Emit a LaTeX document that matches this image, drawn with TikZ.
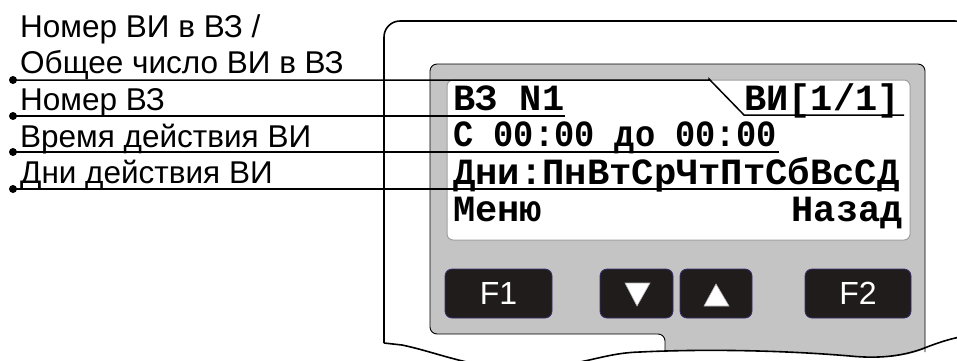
\documentclass[tikz,border=0pt]{standalone}
\usepackage{fontspec}
\setmainfont{Liberation Sans}
\newfontfamily\lcdfont{Liberation Mono}
\usetikzlibrary{positioning}
\definecolor{panelgray}{RGB}{196,196,196}
\definecolor{keyblack}{RGB}{32,28,27}
\definecolor{keyedge}{RGB}{58,46,110}

\tikzset{
  lbl/.style={anchor=base west, inner sep=0pt, font=\fontsize{31.5}{31.5}\selectfont},
  lcdtxt/.style={inner sep=0pt, font=\lcdfont\bfseries\fontsize{37}{37}\selectfont},
  key/.style={draw=keyedge, fill=keyblack, rounded corners=7pt, line width=0.8pt,
    minimum height=49pt, text=white, font=\fontsize{32}{32}\selectfont},
  dot/.style={circle, fill=black, inner sep=0pt, minimum size=8pt},
  leader/.style={line width=1.5pt},
  case/.style={line width=1.6pt},
}

\begin{document}
\begin{tikzpicture}[x=1pt,y=-1pt]
  \useasboundingbox (0,0) rectangle (957,360);
  \clip (0,0) rectangle (957,360);

  % housing
  \draw[case] (384,343) [rounded corners=16pt] -- (384,21) -- (971,21) -- (971,330);
  \fill[panelgray] (665,352) [rounded corners=7pt] -- (665,334) -- (430,334) -- (430,64)
    -- (925,64) [sharp corners] -- (925,349) .. controls (905,357) and (880,359) .. (850,356)
    .. controls (780,350) and (720,349) .. (665,352) -- cycle;
  \draw[line width=0.9pt] (665,352) [rounded corners=7pt] -- (665,334) -- (430,334) -- (430,64)
    -- (925,64) -- (925,352);
  \draw[case] (384,343) -- (402,345) .. controls (440,353) and (470,368) .. (520,368)
    .. controls (580,368) and (600,353) .. (640,352) .. controls (700,349) and (780,350) .. (850,356)
    .. controls (880,359) and (905,356) .. (927,347) .. controls (940,342) and (950,339) .. (960,337);

  % screen
  \draw[fill=white, draw=gray!75, line width=1pt, rounded corners=6pt] (447,80) rectangle (910,240);
  \node[lcdtxt, anchor=base west] (zone) at (453,110) {ВЗ N1};
  \node[lcdtxt, anchor=base east] (count) at (900,110) {ВИ[1/1]};
  \node[lcdtxt, anchor=base west] (time) at (453,146) {\scalebox{0.91}[1]{С 00:00 до 00:00}};
  \node[lcdtxt, anchor=base west] (days) at (453,184) {\scalebox{1.005}[1]{Дни:ПнВтСрЧтПтСбВсСД}};
  \node[lcdtxt, anchor=base west] (menu) at (453,221) {Меню};
  \node[lcdtxt, anchor=base east] (back) at (903,221) {Назад};

  % keys
  \node[key, minimum width=107pt] (f1) at (498.5,293.5) {F1};
  \node[key, minimum width=73pt] (down) at (636.5,293.5) {};
  \node[key, minimum width=72pt] (up) at (716,293.5) {};
  \node[key, minimum width=106pt] (f2) at (858,293.5) {F2};
  \fill[white, draw=gray!60, line width=0.6pt] (625,283) -- (650,283) -- (637,306) -- cycle;
  \fill[white, draw=gray!60, line width=0.6pt] (716,284) -- (729,306) -- (704,306) -- cycle;

  % callouts
  \node[lbl] (l1a) at (20,37) {Номер ВИ в ВЗ /};
  \node[lbl] (l1b) at (20,73) {Общее число ВИ в ВЗ};
  \node[lbl] (l2) at (20,110) {Номер ВЗ};
  \node[lbl] (l3) at (20,147) {Время действия ВИ};
  \node[lbl] (l4) at (20,183) {Дни действия ВИ};

  \node[dot] (d1) at (13,80) {};
  \node[dot] (d2) at (13,116) {};
  \node[dot] (d3) at (13,152) {};
  \node[dot] (d4) at (13,189) {};
  \coordinate (e1a) at (709,79);
  \coordinate (e1b) at (744,115);
  \coordinate (e1c) at (904,115);
  \coordinate (e2) at (564,115);
  \coordinate (e3) at (779,152);
  \coordinate (e4) at (897,188);
  \draw[leader] (d1.center) -- (d1.center -| e1a) -- (e1a) -- (e1b) -- (e1c);
  \draw[leader] (d2.center) -- (d2.center -| e2) -- (e2);
  \draw[leader] (d3.center) -- (e3);
  \draw[leader] (d4.center) -- (d4.center -| e4) -- (e4);
\end{tikzpicture}
\end{document}
